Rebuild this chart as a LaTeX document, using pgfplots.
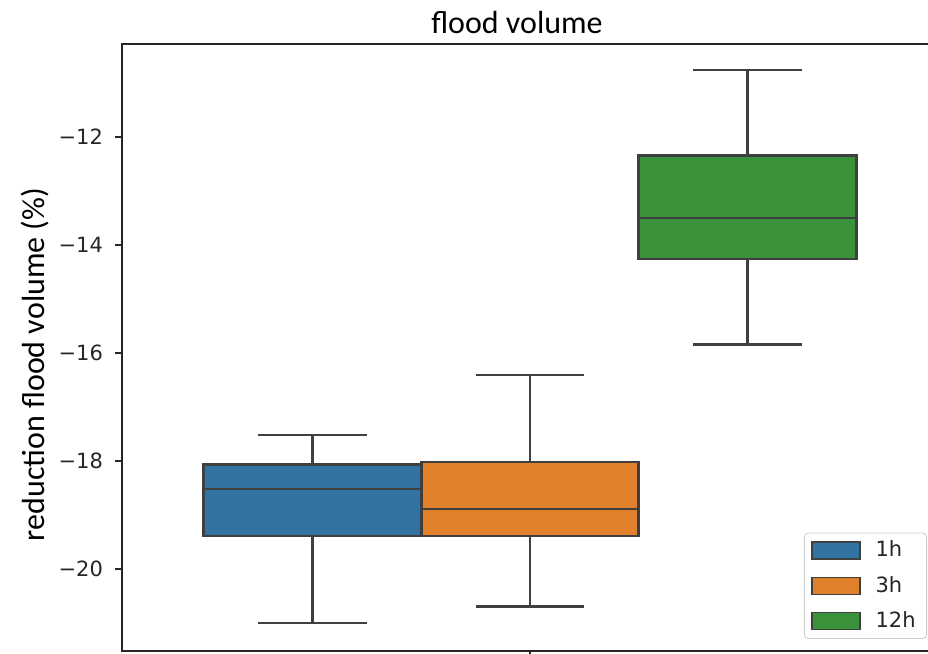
\documentclass[border=0pt]{standalone}
\usepackage{fontspec}
\setmainfont{Carlito}
\newfontfamily\dejavu{DejaVu Sans}
\usepackage{pgfplots}
\pgfplotsset{compat=1.18}
\definecolor{c1}{RGB}{50,116,161}
\definecolor{c2}{RGB}{225,129,44}
\definecolor{c3}{RGB}{58,146,58}
\definecolor{lc}{RGB}{63,63,63}
\definecolor{ax}{RGB}{38,38,38}
\definecolor{lg}{RGB}{204,204,204}
\begin{document}
\begin{tikzpicture}
\path[use as bounding box] (-61pt,-1.5pt) rectangle (403pt,325.5pt);
\begin{axis}[
  scale only axis,
  width=408pt, height=303.5pt,
  xmin=-0.5, xmax=0.5,
  ymin=-21.52, ymax=-10.278,
  xtick={0}, xticklabels={},
  ytick={-20,-18,-16,-14,-12},
  yticklabels={−20,−18,−16,−14,−12},
  tick align=outside,
  major tick length=3.5pt,
  xtick pos=bottom, ytick pos=left,
  tick style={ax, line width=0.6pt},
  axis line style={ax, line width=0.75pt},
  yticklabel style={font=\dejavu\fontsize{10.5}{12}\selectfont, text=ax, xshift=-2.5pt},
  legend style={
    at={(1,0)}, xshift=-5.5pt, yshift=6pt, anchor=south east,
    draw=lg, rounded corners=2pt, fill=white,
    font=\dejavu\fontsize{10.5}{12}\selectfont, text=ax,
    row sep=4.2pt, inner xsep=3.5pt, inner ysep=2pt,
    /tikz/every odd column/.append style={column sep=5.5pt},
  },
  legend cell align=left,
  bx/.style={line width=1.4pt, draw=lc, sharp corners, line join=miter},
]
% 1h
\addplot[forget plot, bx] coordinates {(-0.26667,-19.39) (-0.26667,-21.0)};
\addplot[forget plot, bx] coordinates {(-0.33333,-21.0) (-0.2,-21.0)};
\addplot[forget plot, bx] coordinates {(-0.26667,-18.06) (-0.26667,-17.52)};
\addplot[forget plot, bx] coordinates {(-0.33333,-17.52) (-0.2,-17.52)};
\addplot[forget plot, bx, fill=c1] coordinates {(-0.4,-19.39) (-0.13333,-19.39) (-0.13333,-18.06) (-0.4,-18.06)} -- cycle;
\addplot[forget plot, bx] coordinates {(-0.4,-18.52) (-0.13333,-18.52)};
% 3h
\addplot[forget plot, bx] coordinates {(0,-19.39) (0,-20.70)};
\addplot[forget plot, bx] coordinates {(-0.06667,-20.70) (0.06667,-20.70)};
\addplot[forget plot, bx] coordinates {(0,-18.02) (0,-16.41)};
\addplot[forget plot, bx] coordinates {(-0.06667,-16.41) (0.06667,-16.41)};
\addplot[forget plot, bx, fill=c2] coordinates {(-0.13333,-19.39) (0.13333,-19.39) (0.13333,-18.02) (-0.13333,-18.02)} -- cycle;
\addplot[forget plot, bx] coordinates {(-0.13333,-18.89) (0.13333,-18.89)};
% 12h
\addplot[forget plot, bx] coordinates {(0.26667,-14.26) (0.26667,-15.85)};
\addplot[forget plot, bx] coordinates {(0.2,-15.85) (0.33333,-15.85)};
\addplot[forget plot, bx] coordinates {(0.26667,-12.35) (0.26667,-10.76)};
\addplot[forget plot, bx] coordinates {(0.2,-10.76) (0.33333,-10.76)};
\addplot[forget plot, bx, fill=c3] coordinates {(0.13333,-14.26) (0.4,-14.26) (0.4,-12.35) (0.13333,-12.35)} -- cycle;
\addplot[forget plot, bx] coordinates {(0.13333,-13.50) (0.4,-13.50)};
\addlegendimage{legend image code/.code={\draw[sharp corners,fill=c1,draw=lc,line width=0.6pt] (0pt,-4.25pt) rectangle (24pt,4.25pt);}}
\addlegendentry{1h}
\addlegendimage{legend image code/.code={\draw[sharp corners,fill=c2,draw=lc,line width=0.6pt] (0pt,-4.25pt) rectangle (24pt,4.25pt);}}
\addlegendentry{3h}
\addlegendimage{legend image code/.code={\draw[sharp corners,fill=c3,draw=lc,line width=0.6pt] (0pt,-4.25pt) rectangle (24pt,4.25pt);}}
\addlegendentry{12h}
\end{axis}
\node[anchor=base, font=\fontsize{16}{18}\selectfont] at (197.5pt,308.5pt) {flood volume};
\node[rotate=90, anchor=base, font=\fontsize{16}{18}\selectfont] at (-38.5pt,143.25pt) {reduction flood volume (\%)};
\end{tikzpicture}
\end{document}
